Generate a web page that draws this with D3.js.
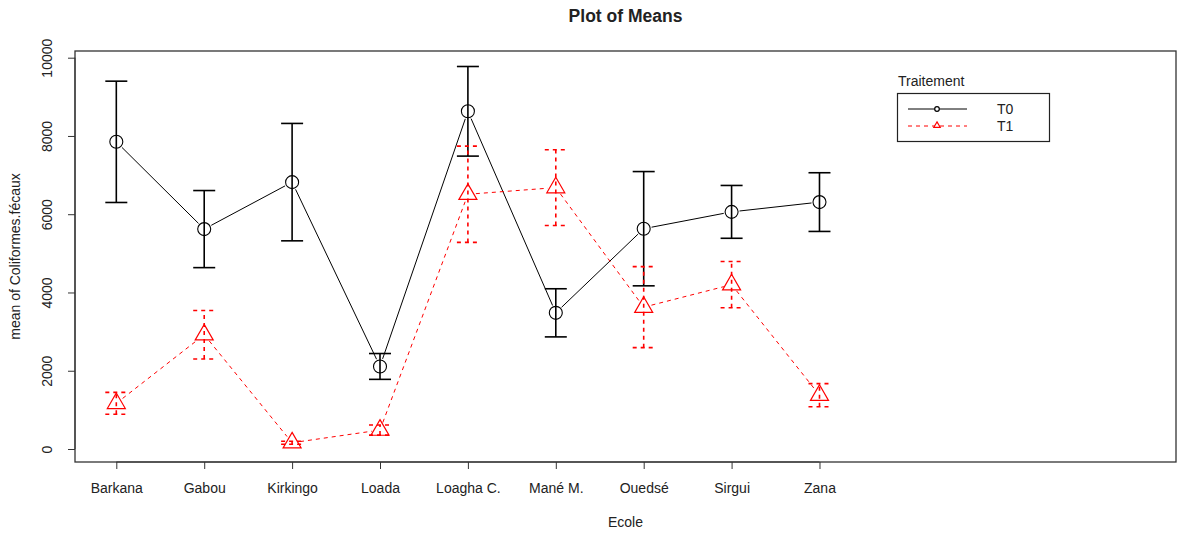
<!DOCTYPE html>
<html><head><meta charset="utf-8">
<script src="https://cdn.jsdelivr.net/npm/d3@7"></script>
<style>
html,body{margin:0;padding:0;background:#fff;}
text{font-family:"Liberation Sans",Arial,sans-serif;fill:#222;}
</style></head>
<body>
<svg id="chart" width="1182" height="536"></svg>
<script>
const ecoles = ["Barkana","Gabou","Kirkingo","Loada","Loagha C.","Mané M.","Ouedsé","Sirgui","Zana"];
const t0Mean = [7850, 5620, 6820, 2110, 8630, 3480, 5630, 6060, 6310];
const t0Err  = [1550, 985, 1500, 330, 1145, 615, 1460, 675, 750];
const t1Mean = [1167, 2920, 160, 485, 6510, 6680, 3625, 4200, 1376];
const t1Err  = [280, 620, 40, 130, 1230, 967, 1035, 590, 295];
const yTicks = [0, 2000, 4000, 6000, 8000, 10000];
const seriesNames = ["T0", "T1"];

const svg = d3.select("#chart");
const L = 75, R = 1176, T = 51, B = 462;
const x = d3.scaleLinear().domain([0.530, 13.056]).range([L, R]);
const y = d3.scaleLinear().domain([-332, 10171]).range([B, T]);

// box
svg.append("rect").attr("x", L).attr("y", T).attr("width", R - L).attr("height", B - T)
  .attr("fill", "none").attr("stroke", "#333").attr("stroke-width", 1.3);

// axes
const xAxis = d3.axisBottom(x).tickValues(d3.range(1, ecoles.length + 1))
  .tickFormat(i => ecoles[i - 1]).tickSize(7).tickPadding(14);
const gx = svg.append("g").attr("transform", `translate(0,${B})`).call(xAxis);
gx.select(".domain").attr("d", `M${x(1)},0H${x(ecoles.length)}`).attr("stroke", "#333");
gx.selectAll(".tick line").attr("stroke", "#333");
gx.selectAll("text").style("font-size", "14px").attr("fill", "#222");

const yAxis = d3.axisLeft(y).tickValues(yTicks).tickSize(7).tickFormat(d3.format("d"));
const gy = svg.append("g").attr("transform", `translate(${L},0)`).call(yAxis);
gy.select(".domain").attr("d", `M0,${y(0)}V${y(10000)}`).attr("stroke", "#333");
gy.selectAll(".tick line").attr("stroke", "#333");
gy.selectAll(".tick text").attr("x", null)
  .attr("text-anchor", "middle")
  .attr("dy", "0.1em").attr("transform", "translate(-24,0) rotate(-90)")
  .style("font-size", "14px").attr("fill", "#222");

// titles
svg.append("text").attr("x", (L + R) / 2).attr("y", 22).attr("text-anchor", "middle")
  .style("font-size", "17.5px").style("font-weight", "bold").text("Plot of Means");
svg.append("text").attr("x", (L + R) / 2).attr("y", 527).attr("text-anchor", "middle")
  .style("font-size", "14px").text("Ecole");
svg.append("text").attr("transform", `translate(20,${(T + B) / 2}) rotate(-90)`)
  .attr("text-anchor", "middle").style("font-size", "14px").text("mean of Coliformes.fécaux");

function gapSegments(means, gap) {
  const segs = [];
  for (let i = 0; i < means.length - 1; i++) {
    const x1 = x(i + 1), y1 = y(means[i]), x2 = x(i + 2), y2 = y(means[i + 1]);
    const dx = x2 - x1, dy = y2 - y1, len = Math.hypot(dx, dy);
    if (len <= 2 * gap) continue;
    const ux = dx / len, uy = dy / len;
    segs.push([x1 + ux * gap, y1 + uy * gap, x2 - ux * gap, y2 - uy * gap]);
  }
  return segs;
}

function drawSeries(means, errs, color, dash, shape) {
  const g = svg.append("g");
  const cap = 11;
  means.forEach((m, i) => {
    const cx = x(i + 1);
    const lo = y(m - errs[i]), hi = y(m + errs[i]);
    g.append("line").attr("x1", cx).attr("x2", cx).attr("y1", lo).attr("y2", hi)
      .attr("stroke", color).attr("stroke-width", 1.6).attr("stroke-dasharray", dash);
    [lo, hi].forEach(yy => g.append("line").attr("x1", cx - cap).attr("x2", cx + cap)
      .attr("y1", yy).attr("y2", yy).attr("stroke", color).attr("stroke-width", 1.6)
      .attr("stroke-dasharray", dash));
  });
  gapSegments(means, 8).forEach(s => g.append("line")
    .attr("x1", s[0]).attr("y1", s[1]).attr("x2", s[2]).attr("y2", s[3])
    .attr("stroke", color).attr("stroke-width", 1).attr("stroke-dasharray", dash));
  means.forEach((m, i) => {
    const cx = x(i + 1), cy = y(m);
    if (shape === "circle") {
      g.append("circle").attr("cx", cx).attr("cy", cy).attr("r", 6.5)
        .attr("fill", "none").attr("stroke", color).attr("stroke-width", 1.1);
    } else {
      const r = 10.4, xc = 9, yc = 5.2;
      g.append("path").attr("d", `M${cx},${cy - r}L${cx + xc},${cy + yc}L${cx - xc},${cy + yc}Z`)
        .attr("fill", "none").attr("stroke", color).attr("stroke-width", 1.2);
    }
  });
}

drawSeries(t0Mean, t0Err, "#000", null, "circle");
drawSeries(t1Mean, t1Err, "#ff0000", "4,4", "triangle");

// legend
const lg = svg.append("g");
lg.append("text").attr("x", 898).attr("y", 86).style("font-size", "14px").text("Traitement");
lg.append("rect").attr("x", 897.5).attr("y", 93.5).attr("width", 152).attr("height", 48)
  .attr("fill", "#fff").attr("stroke", "#222").attr("stroke-width", 1.2);
const legY = [109, 126];
seriesNames.forEach((n, k) => {
  lg.append("line").attr("x1", 908).attr("x2", 967).attr("y1", legY[k]).attr("y2", legY[k])
    .attr("stroke", k === 0 ? "#000" : "#ff0000").attr("stroke-width", 1)
    .attr("stroke-dasharray", k === 0 ? null : "4,4");
  if (k === 0) {
    lg.append("circle").attr("cx", 937).attr("cy", legY[k]).attr("r", 2.3)
      .attr("fill", "#fff").attr("stroke", "#000").attr("stroke-width", 1.2);
  } else {
    const cx = 937, cy = legY[k] - 0.5;
    lg.append("path").attr("d", `M${cx},${cy - 3.6}L${cx + 3.2},${cy + 1.8}L${cx - 3.2},${cy + 1.8}Z`)
      .attr("fill", "#fff").attr("stroke", "#ff0000").attr("stroke-width", 1.2);
  }
  lg.append("text").attr("x", 997).attr("y", legY[k] + 5).style("font-size", "14px").text(n);
});
</script>
</body></html>
